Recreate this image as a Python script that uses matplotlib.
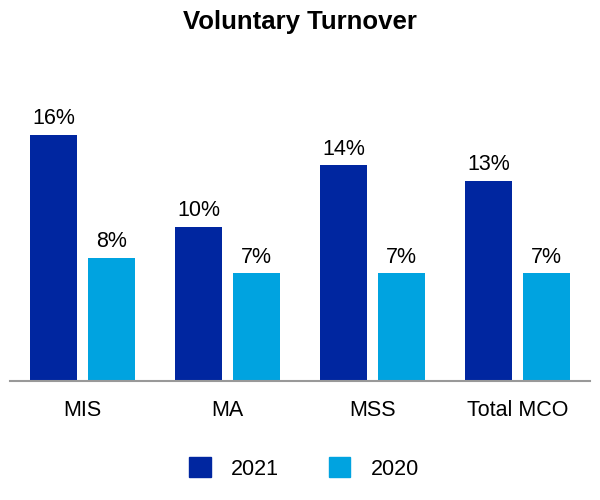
import matplotlib
matplotlib.use("Agg")
import matplotlib.pyplot as plt
import numpy as np
from matplotlib.patches import Patch

categories = ["MIS", "MA", "MSS", "Total MCO"]
series_names = ["2021", "2020"]
values_2021 = [16, 10, 14, 13]
values_2020 = [8, 7, 7, 7]
colors = ["#0026A0", "#00A3E0"]

plt.rcParams['font.family'] = ['Liberation Sans', 'DejaVu Sans']

fig = plt.figure(figsize=(6, 5), dpi=100)
ax = fig.add_axes([10/600, 0.238, 580/600, 0.616])

x = np.arange(len(categories))
w = 0.33
off = 0.2
b1 = ax.bar(x - off, values_2021, w, color=colors[0])
b2 = ax.bar(x + off, values_2020, w, color=colors[1])
for bars, vals in ((b1, values_2021), (b2, values_2020)):
    for r, v in zip(bars, vals):
        ax.annotate(f"{v}%", (r.get_x() + r.get_width()/2, v), xytext=(0, 4),
                    textcoords="offset points", ha="center", va="bottom", fontsize=15.5)

ax.set_xlim(-0.5, 3.5)
ax.set_ylim(0, 20)
ax.set_xticks(x)
ax.set_xticklabels(categories, fontsize=15.5)
ax.tick_params(axis='x', length=0, pad=14)
ax.set_yticks([])
for s in ["top", "right", "left"]:
    ax.spines[s].set_visible(False)
ax.spines["bottom"].set_color("#999999")
ax.spines["bottom"].set_linewidth(1.5)

fig.text(0.5, 0.955, "Voluntary Turnover", ha="center", va="center", fontsize=18.5, fontweight="bold")

handles = [Patch(color=c) for c in colors]
fig.legend(handles, series_names, loc="center", bbox_to_anchor=(0.507, 0.063), ncol=2,
           frameon=False, fontsize=15.5, handlelength=1.0, handleheight=1.0,
           handletextpad=0.95, columnspacing=2.3)

fig.savefig("out.png", dpi=100)
